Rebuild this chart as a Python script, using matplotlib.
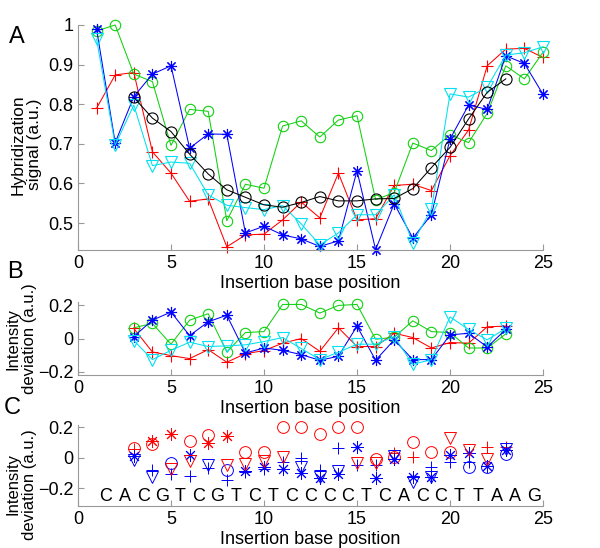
import matplotlib
matplotlib.use('Agg')
import matplotlib.pyplot as plt
import numpy as np

plt.rcParams['font.family'] = ['Liberation Sans', 'DejaVu Sans']

# panel A: hybridization signal for each inserted base (+ = A, o = C, * = G, v = T)
positions = list(range(1, 26))
signal_a = [0.79, 0.874, 0.88, 0.68, 0.626, 0.555, 0.561, 0.44, 0.47, 0.472, 0.508, 0.553, 0.513,
            0.626, 0.508, 0.511, 0.595, 0.598, 0.582, 0.67, 0.735, 0.897, 0.939, 0.941, 0.918]
signal_c = [0.985, 1.0, 0.876, 0.857, 0.696, 0.787, 0.782, 0.506, 0.598, 0.588, 0.745, 0.758, 0.717,
            0.76, 0.771, 0.559, 0.577, 0.702, 0.683, 0.723, 0.703, 0.777, 0.897, 0.864, 0.931]
signal_g = [0.989, 0.703, 0.819, 0.876, 0.897, 0.689, 0.725, 0.724, 0.475, 0.492, 0.47, 0.46, 0.441,
            0.455, 0.632, 0.433, 0.549, 0.462, 0.521, 0.712, 0.798, 0.787, 0.922, 0.903, 0.825]
signal_t = [0.964, 0.697, 0.798, 0.645, 0.654, 0.651, 0.571, 0.545, 0.539, 0.534, 0.544, 0.498, 0.445,
            0.475, 0.521, 0.521, 0.571, 0.45, 0.535, 0.826, 0.818, 0.843, 0.924, 0.930, 0.945]
mean_positions = list(range(3, 24))
signal_mean = [0.817, 0.765, 0.731, 0.674, 0.624, 0.584, 0.565, 0.546, 0.540, 0.552, 0.567,
               0.556, 0.556, 0.561, 0.562, 0.587, 0.640, 0.691, 0.763, 0.830, 0.864]

# panels B and C: deviation from the mean
dev_positions = list(range(3, 24))
dev_a = [0.061, -0.081, -0.103, -0.121, -0.067, -0.143, -0.091, -0.073, -0.028, 0.0, -0.077,
         0.065, -0.048, -0.048, 0.032, 0.006, -0.057, -0.024, -0.028, 0.071, 0.075]
dev_c = [0.065, 0.091, -0.034, 0.111, 0.15, -0.081, 0.036, 0.042, 0.206, 0.206, 0.154,
         0.2, 0.206, -0.004, 0.008, 0.107, 0.042, 0.036, -0.057, -0.057, 0.028]
dev_g = [0.012, 0.111, 0.16, 0.018, 0.101, 0.141, -0.087, -0.057, -0.071, -0.097, -0.131,
         -0.107, 0.075, -0.131, -0.008, -0.127, -0.127, 0.022, 0.032, -0.051, 0.055]
dev_t = [-0.012, -0.127, -0.071, -0.022, -0.048, -0.044, -0.038, -0.018, 0.006, -0.06, -0.127,
         -0.083, -0.034, -0.034, 0.012, -0.156, -0.127, 0.131, 0.055, -0.008, 0.061]

sequence = "CACGTCGTCTCCCCTCACCTTAAG"

star = (8, 2, 0)
series = [
    ('A', '+', 'r', signal_a, dev_a, 8),
    ('C', 'o', '#10d010', signal_c, dev_c, 7.5),
    ('G', star, 'b', signal_g, dev_g, 8),
    ('T', 'v', '#00e0f0', signal_t, dev_t, 8),
]

fig = plt.figure(figsize=(6, 5.48), dpi=100)
axA = fig.add_axes([0.13, 0.5438, 0.775, 0.4106])
axB = fig.add_axes([0.13, 0.3157, 0.775, 0.133])
axC = fig.add_axes([0.13, 0.0766, 0.775, 0.1475])


def style(ax):
    for s in ['top', 'right']:
        ax.spines[s].set_visible(False)
    for s in ['left', 'bottom']:
        ax.spines[s].set_color('#999999')
    ax.tick_params(direction='in', length=4, color='#999999', labelsize=13,
                   labelcolor='black', width=0.8)
    ax.set_xlim(0, 25)
    ax.set_xticks([0, 5, 10, 15, 20, 25])
    ax.set_xlabel('Insertion base position', fontsize=13, labelpad=2)


for base, mk, col, sig, dev, ms in series:
    axA.plot(positions, sig, color=col, marker=mk, mfc='none', ms=ms, lw=0.75, mew=0.8,
             clip_on=False)
axA.plot(mean_positions, signal_mean, color='k', marker='o', mfc='none', ms=8, lw=0.75, mew=0.8,
         clip_on=False)
axA.set_ylim(0.432, 1.0)
axA.set_yticks([0.5, 0.6, 0.7, 0.8, 0.9, 1.0])
axA.set_yticklabels(['0.5', '0.6', '0.7', '0.8', '0.9', '1'])
style(axA)
axA.set_ylabel('Hybridization\nsignal (a.u.)', fontsize=12.5, linespacing=1.1)
axA.yaxis.set_label_coords(-0.077, 0.47)

for base, mk, col, sig, dev, ms in series:
    axB.plot(dev_positions, dev, color=col, marker=mk, mfc='none', ms=ms, lw=0.75, mew=0.8,
             clip_on=False)
axB.set_ylim(-0.22, 0.22)
axB.set_yticks([-0.2, 0, 0.2])
axB.set_yticklabels(['\u22120.2', '0', '0.2'])
style(axB)
axB.set_ylabel('Intensity\ndeviation (a.u.)', fontsize=12, linespacing=1.1)
axB.yaxis.set_label_coords(-0.088, 0.5)

# panel C: red when the inserted base matches a neighbouring base
for base, mk, col, sig, dev, ms in series:
    for x, d in zip(dev_positions, dev):
        near = sequence[x - 2] + sequence[x - 1]
        c = 'r' if base in near else 'b'
        axC.plot([x], [d], color=c, marker=mk, mfc='none', ms=ms + 1, mew=0.7, ls='none',
                 clip_on=False)
for k, letter in enumerate(sequence):
    axC.text(k + 1.5, -0.255, letter, ha='center', va='center', fontsize=13)
axC.set_ylim(-0.315, 0.215)
axC.set_yticks([-0.2, 0, 0.2])
axC.set_yticklabels(['\u22120.2', '0', '0.2'])
style(axC)
axC.set_ylabel('Intensity\ndeviation (a.u.)', fontsize=12, linespacing=1.1)
axC.yaxis.set_label_coords(-0.088, 0.27)

fig.text(17 / 600, 1 - 37 / 548, 'A', fontsize=17, ha='center', va='center')
fig.text(15 / 600, 1 - 272 / 548, 'B', fontsize=17, ha='center', va='center')
fig.text(12 / 600, 1 - 408 / 548, 'C', fontsize=17, ha='center', va='center')

fig.savefig('out.png', dpi=100)
